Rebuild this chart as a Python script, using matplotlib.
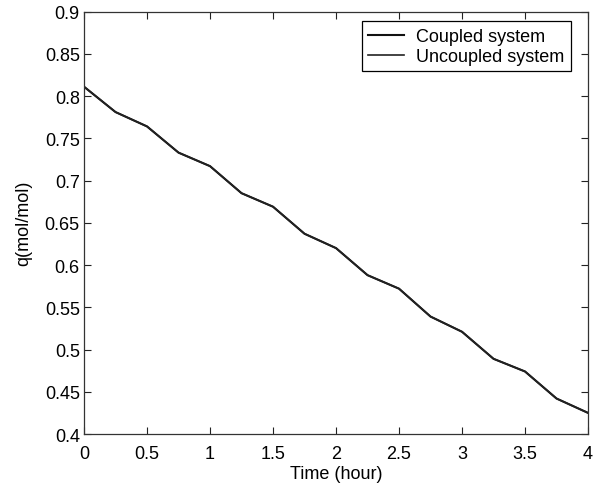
import matplotlib
matplotlib.use("Agg")
import matplotlib.pyplot as plt
from matplotlib.ticker import FuncFormatter

# Time in hours and adsorbed amount q (mol/mol)
time_h = [0.0, 0.25, 0.5, 0.75, 1.0, 1.25, 1.5, 1.75, 2.0,
          2.25, 2.5, 2.75, 3.0, 3.25, 3.5, 3.75, 4.0]
q_coupled = [0.811, 0.781, 0.764, 0.733, 0.717, 0.685, 0.669, 0.637, 0.620,
             0.588, 0.572, 0.539, 0.521, 0.489, 0.474, 0.442, 0.425]
q_uncoupled = [0.811, 0.781, 0.764, 0.733, 0.717, 0.685, 0.669, 0.637, 0.620,
               0.588, 0.572, 0.539, 0.521, 0.489, 0.474, 0.442, 0.425]

x_ticks = [0, 0.5, 1, 1.5, 2, 2.5, 3, 3.5, 4]
y_ticks = [0.4, 0.45, 0.5, 0.55, 0.6, 0.65, 0.7, 0.75, 0.8, 0.85, 0.9]

plt.rcParams["font.family"] = ["Liberation Sans", "DejaVu Sans"]
plt.rcParams["font.size"] = 13

fig = plt.figure(figsize=(5.96, 4.89), dpi=100)
ax = fig.add_axes([0.141, 0.1104, 0.8456, 0.864])

ax.plot(time_h, q_coupled, color="#111111", lw=1.5, label="Coupled system")
ax.plot(time_h, q_uncoupled, color="#222222", lw=1.2, label="Uncoupled system")

ax.set_xlim(0, 4)
ax.set_ylim(0.4, 0.9)
ax.set_xticks(x_ticks)
ax.set_yticks(y_ticks)
fmt = FuncFormatter(lambda v, _: f"{v:g}")
ax.xaxis.set_major_formatter(fmt)
ax.yaxis.set_major_formatter(fmt)
ax.tick_params(direction="in", top=True, right=True, length=5, width=0.8,
               pad=3, colors="#222222", labelcolor="black")
ax.tick_params(axis="x", pad=8)
for sp in ax.spines.values():
    sp.set_linewidth(0.9)
    sp.set_color("#333333")

ax.set_xlabel("Time (hour)", labelpad=2)
ax.set_ylabel("q(mol/mol)", labelpad=9)

leg = ax.legend(loc="upper right", bbox_to_anchor=(0.966, 0.977),
                borderaxespad=0, fancybox=False, framealpha=1,
                edgecolor="black", handlelength=1.95, borderpad=0.35,
                labelspacing=0.2, handletextpad=0.7, handleheight=0.6)
leg.get_frame().set_linewidth(0.9)

fig.savefig("out.png", dpi=100)
